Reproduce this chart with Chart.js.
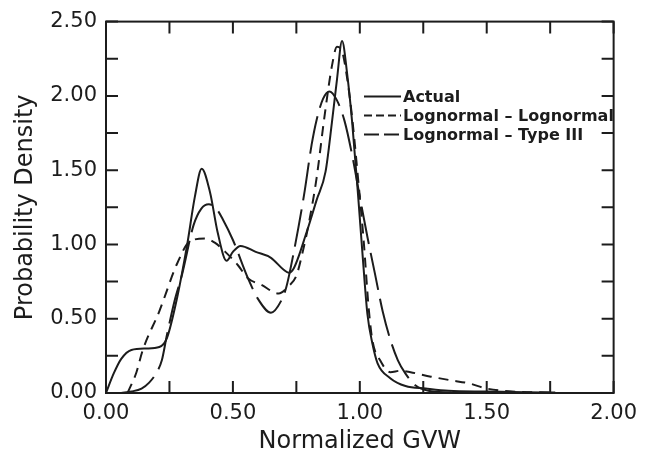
<!DOCTYPE html>
<html>
<head>
<meta charset="utf-8">
<script src="https://cdn.jsdelivr.net/npm/chart.js@4"></script>
<style>
  body { margin: 0; background: #fff; }
  #wrap { width: 645px; height: 457px; }
</style>
</head>
<body>
<div id="wrap"><canvas id="gvw_chart" width="645" height="457"></canvas></div>
<script>
// values
const actualX = [0, 0.03, 0.06, 0.10, 0.16, 0.21, 0.24, 0.28, 0.32, 0.35, 0.377, 0.41, 0.44, 0.475, 0.50, 0.53, 0.59, 0.65, 0.70, 0.72, 0.74, 0.79, 0.83, 0.865, 0.89, 0.91, 0.93, 0.95, 0.97, 0.995, 1.01, 1.03, 1.05, 1.07, 1.12, 1.18, 1.26, 1.35, 1.50, 1.65, 1.77];
const actualY = [0, 0.13, 0.23, 0.29, 0.30, 0.31, 0.37, 0.64, 1.0, 1.32, 1.51, 1.35, 1.08, 0.89, 0.95, 0.99, 0.95, 0.91, 0.83, 0.81, 0.84, 1.08, 1.30, 1.49, 1.82, 2.11, 2.37, 2.15, 1.82, 1.29, 0.95, 0.53, 0.33, 0.20, 0.10, 0.047, 0.03, 0.015, 0.01, 0.005, 0.003];

const lognX = [0.085, 0.12, 0.145, 0.21, 0.28, 0.33, 0.39, 0.43, 0.47, 0.52, 0.56, 0.61, 0.68, 0.72, 0.75, 0.775, 0.80, 0.83, 0.86, 0.89, 0.91, 0.93, 0.95, 0.97, 0.99, 1.015, 1.035, 1.05, 1.08, 1.12, 1.16, 1.20, 1.28, 1.36, 1.43, 1.50, 1.60, 1.75];
const lognY = [0, 0.14, 0.29, 0.55, 0.87, 1.02, 1.04, 1.01, 0.95, 0.86, 0.77, 0.73, 0.67, 0.72, 0.79, 0.95, 1.15, 1.45, 1.85, 2.20, 2.33, 2.30, 2.12, 1.85, 1.50, 1.03, 0.57, 0.35, 0.22, 0.14, 0.15, 0.14, 0.11, 0.085, 0.065, 0.03, 0.01, 0.003];

const type3X = [0.06, 0.10, 0.14, 0.17, 0.20, 0.22, 0.24, 0.27, 0.30, 0.345, 0.375, 0.405, 0.435, 0.46, 0.50, 0.56, 0.60, 0.65, 0.69, 0.71, 0.74, 0.78, 0.81, 0.83, 0.855, 0.88, 0.91, 0.94, 0.97, 1.00, 1.03, 1.06, 1.09, 1.12, 1.15, 1.18, 1.22, 1.27, 1.35, 1.50];
const type3Y = [0, 0.01, 0.03, 0.07, 0.14, 0.22, 0.39, 0.62, 0.80, 1.13, 1.24, 1.27, 1.24, 1.17, 1.03, 0.77, 0.63, 0.54, 0.62, 0.71, 0.95, 1.33, 1.67, 1.84, 1.98, 2.03, 1.97, 1.83, 1.60, 1.32, 1.05, 0.80, 0.55, 0.36, 0.22, 0.13, 0.05, 0.015, 0.004, 0];

const seriesNames = ['Actual', 'Lognormal \u2013 Lognormal', 'Lognormal \u2013 Type III'];
const xTicks = [0, 0.5, 1.0, 1.5, 2.0];
const yTicks = [0, 0.5, 1.0, 1.5, 2.0, 2.5];

const ink = '#1c1c1c';
const pts = (xs, ys) => xs.map((x, i) => ({x: x, y: ys[i]}));
const isLabelled = (v, list) => list.some(t => Math.abs(t - v) < 1e-6);

// box, inward ticks on all four sides, legend inside the plot
const frame = {
  id: 'frame',
  afterDraw(chart) {
    const ctx = chart.ctx;
    const a = chart.chartArea;
    const len = 12;
    ctx.save();
    ctx.strokeStyle = ink;
    ctx.lineWidth = 2;
    ctx.setLineDash([]);
    ctx.strokeRect(a.left, a.top, a.right - a.left, a.bottom - a.top);
    ctx.beginPath();
    chart.scales.x.ticks.forEach(t => {
      const px = chart.scales.x.getPixelForValue(t.value);
      ctx.moveTo(px, a.bottom); ctx.lineTo(px, a.bottom - len);
      ctx.moveTo(px, a.top); ctx.lineTo(px, a.top + len);
    });
    chart.scales.y.ticks.forEach(t => {
      const py = chart.scales.y.getPixelForValue(t.value);
      ctx.moveTo(a.left, py); ctx.lineTo(a.left + len, py);
      ctx.moveTo(a.right, py); ctx.lineTo(a.right - len, py);
    });
    ctx.stroke();

    // legend
    const dashes = [[], [8, 4], [15, 5]];
    const x0 = a.left + 258, x1 = a.left + 295;
    ctx.font = 'bold 16px "DejaVu Sans"';
    ctx.fillStyle = ink;
    ctx.textBaseline = 'middle';
    ctx.textAlign = 'left';
    chart.data.datasets.forEach((ds, i) => {
      const y = a.top + 75 + i * 19;
      ctx.setLineDash(dashes[i]);
      ctx.beginPath();
      ctx.moveTo(x0, y); ctx.lineTo(x1, y);
      ctx.stroke();
      ctx.fillText(ds.label, x1 + 2, y + 1);
    });
    ctx.restore();
  }
};

const ctx = document.getElementById('gvw_chart');

new Chart(ctx, {
  type: 'line',
  data: {
    datasets: [{
      label: seriesNames[0],
      data: pts(actualX, actualY),
      borderDash: []
    }, {
      label: seriesNames[1],
      data: pts(lognX, lognY),
      borderDash: [10, 7]
    }, {
      label: seriesNames[2],
      data: pts(type3X, type3Y),
      borderDash: [38, 9]
    }]
  },
  options: {
    responsive: false,
    animation: false,
    layout: { padding: { left: 0, right: 25, top: 18, bottom: 0 } },
    elements: {
      point: { radius: 0 },
      line: { borderColor: ink, borderWidth: 2, cubicInterpolationMode: 'monotone', fill: false }
    },
    plugins: {
      legend: { display: false },
      tooltip: { enabled: false }
    },
    scales: {
      x: {
        type: 'linear',
        min: 0, max: 2,
        grid: { display: false, drawTicks: false },
        border: { display: false },
        afterFit: s => { s.height = 64; },
        ticks: {
          stepSize: 0.25,
          autoSkip: false,
          maxRotation: 0,
          padding: 8,
          color: ink,
          font: { family: 'DejaVu Sans', size: 21 },
          callback: v => isLabelled(v, xTicks) ? v.toFixed(2) : ''
        },
        title: {
          display: true,
          text: 'Normalized GVW',
          color: ink,
          font: { family: 'DejaVu Sans', size: 24 },
          padding: { top: 0, bottom: 1 }
        }
      },
      y: {
        min: 0, max: 2.5,
        grid: { display: false, drawTicks: false },
        border: { display: false },
        afterFit: s => { s.width = 106; },
        ticks: {
          stepSize: 0.25,
          autoSkip: false,
          padding: 9,
          color: ink,
          font: { family: 'DejaVu Sans', size: 21 },
          callback: v => isLabelled(v, yTicks) ? v.toFixed(2) : ''
        },
        title: {
          display: true,
          text: 'Probability Density',
          color: ink,
          font: { family: 'DejaVu Sans', size: 24 },
          padding: { top: 11, bottom: 0 }
        }
      }
    }
  },
  plugins: [frame]
});
</script>
</body>
</html>
